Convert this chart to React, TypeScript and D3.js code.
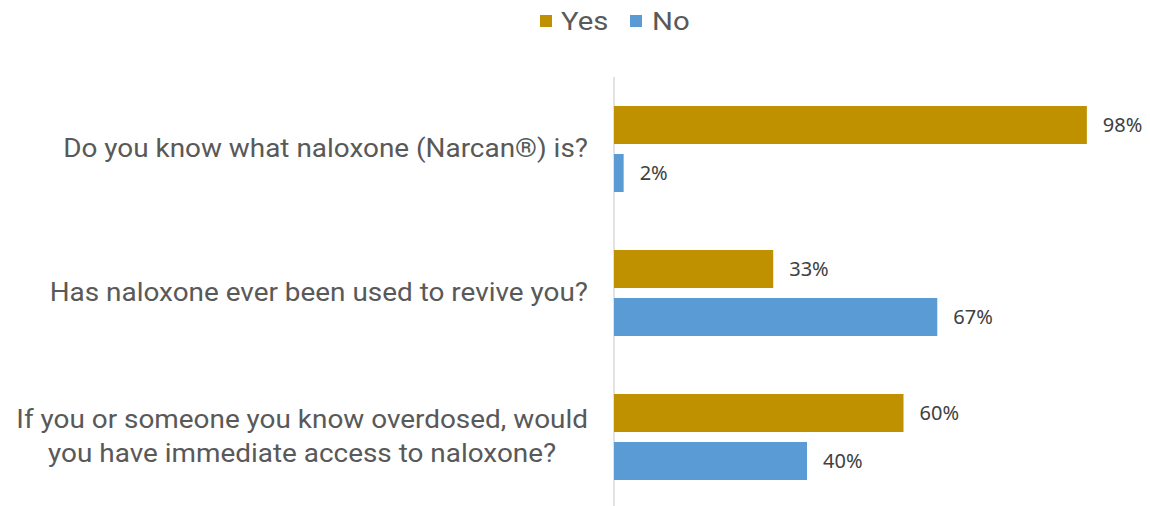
import React, { useLayoutEffect, useRef, useState } from "react";
import * as d3 from "d3";

const categories = [
  ["Do you know what naloxone (Narcan®) is?"],
  ["Has naloxone ever been used to revive you?"],
  ["If you or someone you know overdosed, would", "you have immediate access to naloxone?"],
];
const seriesNames = ["Yes", "No"];
const yesValues = [98, 33, 60];
const noValues = [2, 67, 40];
const colors = ["#BF9000", "#5B9BD5"];

const SX = 1.095;
const FS = 25.5;

function CatLabel({ lines, x, cy }: { lines: string[]; x: number; cy: number }) {
  const refs = useRef<(SVGTextElement | null)[]>([]);
  const [w, setW] = useState(0);
  useLayoutEffect(() => {
    const measure = () => {
      const ws = refs.current.map((t) => (t ? t.getComputedTextLength() : 0));
      setW(Math.max(...ws));
    };
    measure();
    if ((document as any).fonts) (document as any).fonts.ready.then(measure);
  }, []);
  const lh = 35;
  const base0 = 8 - ((lines.length - 1) * lh) / 2;
  return (
    <g transform={`translate(${x},${cy}) scale(${SX},1)`}>
      {lines.map((l, k) => (
        <text
          key={k}
          ref={(el) => { refs.current[k] = el; }}
          x={lines.length > 1 ? -w / 2 : 0}
          y={base0 + k * lh}
          textAnchor={lines.length > 1 ? "middle" : "end"}
          fontFamily="Roboto"
          fontSize={FS}
          fill="#595959"
        >
          {l}
        </text>
      ))}
    </g>
  );
}

export default function App() {
  const W = 1150, H = 506;
  const x0 = 614;
  const x = d3.scaleLinear().domain([0, 100]).range([x0, x0 + 482.5]);
  const y = d3.scaleBand<number>().domain([0, 1, 2]).range([77, 509]).paddingInner(0).paddingOuter(0);
  const inner = d3.scaleBand<number>().domain([0, 1]).range([29, 115]).paddingInner(10 / 48).paddingOuter(0);
  const series = [yesValues, noValues];

  return (
    <svg width={W} height={H} style={{ position: "absolute", left: 0, top: 0, background: "#fff" }}>
      {/* legend */}
      <g>
        <rect x={540} y={15} width={12} height={12} fill={colors[0]} />
        <text transform={`translate(561,30) scale(1.15,1)`} fontFamily="Roboto" fontSize={25.5} fill="#595959">{seriesNames[0]}</text>
        <rect x={630} y={15} width={12} height={12} fill={colors[1]} />
        <text transform={`translate(652,30) scale(1.15,1)`} fontFamily="Roboto" fontSize={25.5} fill="#595959">{seriesNames[1]}</text>
      </g>
      {/* axis line */}
      <line x1={x0} x2={x0} y1={77} y2={506} stroke="#d9d9d9" strokeWidth={1.5} />
      {categories.map((lines, i) => {
        const by = y(i)!;
        const cy = by + y.bandwidth() / 2;
        return (
          <g key={i}>
            {series.map((vals, s) => {
              const yy = by + inner(s)!;
              const h = inner.bandwidth();
              return (
                <g key={s}>
                  <rect x={x(0)} y={yy} width={x(vals[i]) - x(0)} height={h} fill={colors[s]} />
                  <text x={x(vals[i]) + 16} y={yy + h / 2 + 7} fontFamily="Noto Sans" fontSize={20} fill="#404040">
                    {vals[i]}%
                  </text>
                </g>
              );
            })}
            <CatLabel lines={lines} x={588} cy={cy} />
          </g>
        );
      })}
    </svg>
  );
}
